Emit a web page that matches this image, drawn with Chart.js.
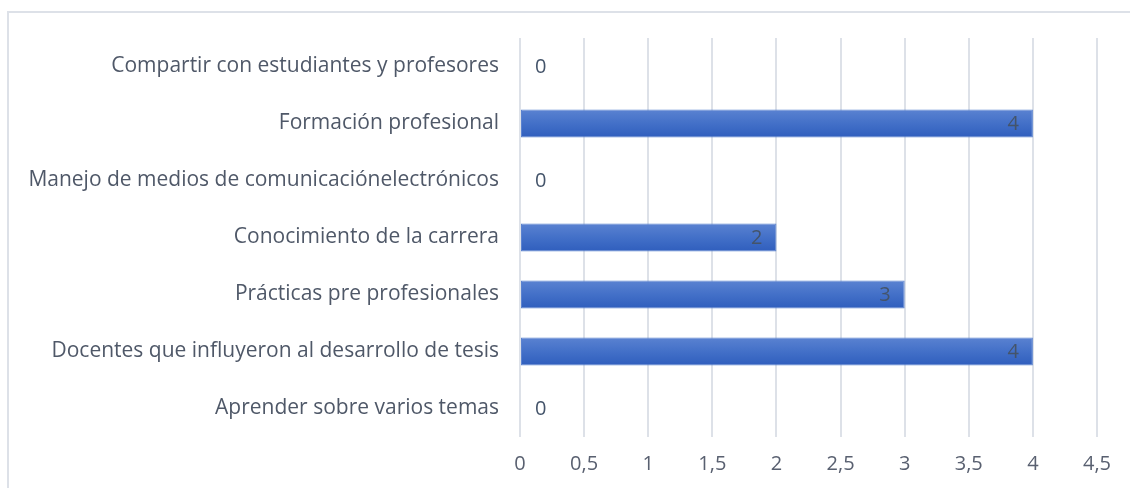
<!DOCTYPE html>
<html><head><meta charset="utf-8">
<script src="https://cdn.jsdelivr.net/npm/chart.js@4/dist/chart.umd.min.js"></script>
<style>html,body{margin:0;padding:0;background:#fff}#wrap{width:1130px;height:488px;position:relative}</style>
</head><body><div id="wrap"><canvas id="c" width="1130" height="488"></canvas></div>
<script>
const categories = [
  "Compartir con estudiantes y profesores",
  "Formación profesional",
  "Manejo de medios de comunicaciónelectrónicos",
  "Conocimiento de la carrera",
  "Prácticas pre profesionales",
  "Docentes que influyeron al desarrollo de tesis",
  "Aprender sobre varios temas"
];
const values = [0, 4, 0, 2, 3, 4, 0];
const xTicks = [0, 0.5, 1, 1.5, 2, 2.5, 3, 3.5, 4, 4.5];
const FONT = "'Open Sans', Lato, sans-serif";
const BAR_PCT = 0.49;

const framePlugin = {
  id: 'frame',
  beforeDraw(chart) {
    const ctx = chart.ctx;
    ctx.save();
    ctx.strokeStyle = '#dde1e8';
    ctx.lineWidth = 2;
    ctx.beginPath();
    ctx.moveTo(8, 488);
    ctx.lineTo(8, 12);
    ctx.lineTo(1130, 12);
    ctx.stroke();
    ctx.restore();
  }
};
const labelPlugin = {
  id: 'vlabels',
  afterDatasetsDraw(chart) {
    const ctx = chart.ctx;
    const meta = chart.getDatasetMeta(0);
    ctx.save();
    ctx.font = "20px " + FONT;
    ctx.fillStyle = '#44546a';
    ctx.textBaseline = 'middle';
    meta.data.forEach((bar, i) => {
      const v = values[i];
      const txt = String(v).replace('.', ',');
      if (v > 0) {
        ctx.textAlign = 'right';
        ctx.fillText(txt, bar.x - 14, bar.y + 1);
      } else {
        ctx.textAlign = 'left';
        ctx.fillText(txt, bar.x + 15, bar.y + 1);
      }
    });
    ctx.restore();
  }
};

new Chart(document.getElementById('c'), {
  type: 'bar',
  data: {
    labels: categories,
    datasets: [{
      data: values,
      backgroundColor(ctx) {
        const ch = ctx.chart;
        const ys = ch.scales && ch.scales.y;
        if (!ys || !ch.chartArea || ctx.dataIndex === undefined) return '#4472c4';
        const yc = ys.getPixelForValue(ctx.dataIndex);
        const h = (ys.height / categories.length) * BAR_PCT;
        if (!Number.isFinite(yc) || !Number.isFinite(h) || h <= 0) return '#4472c4';
        const g = ch.ctx.createLinearGradient(0, yc - h / 2, 0, yc + h / 2);
        g.addColorStop(0, '#5a82d1');
        g.addColorStop(0.5, '#4370c8');
        g.addColorStop(1, '#2f5ebd');
        return g;
      },
      borderColor: '#5a82d0',
      borderWidth: 1,
      borderSkipped: false,
      barPercentage: BAR_PCT,
      categoryPercentage: 1.0
    }]
  },
  options: {
    indexAxis: 'y',
    responsive: false,
    animation: false,
    layout: { padding: { top: 38, right: 33, left: 0, bottom: 0 } },
    plugins: { legend: { display: false }, tooltip: { enabled: false } },
    scales: {
      x: {
        min: 0, max: 4.5,
        afterBuildTicks(axis) { axis.ticks = xTicks.map(v => ({ value: v })); },
        afterFit(axis) { axis.height = 51; },
        grid: { color: '#dde1e8', lineWidth: 2, drawTicks: false },
        border: { display: false },
        ticks: {
          color: '#596070', font: { family: FONT, size: 20 }, padding: 15,
          callback(v) { return String(v).replace('.', ','); }
        }
      },
      y: {
        afterFit(axis) { axis.width = 520; },
        grid: { display: false, drawTicks: false },
        border: { display: false },
        ticks: { color: '#4f5868', font: { family: FONT, size: 21 }, padding: 21 }
      }
    }
  },
  plugins: [framePlugin, labelPlugin]
});
</script></body></html>
